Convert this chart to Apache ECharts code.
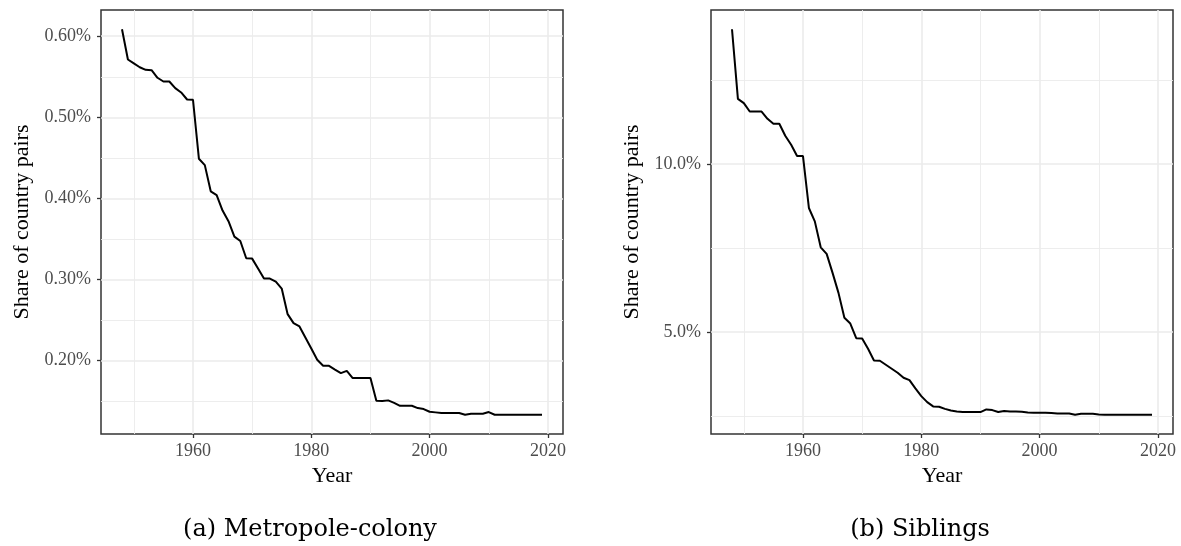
<!DOCTYPE html>
<html>
<head>
<meta charset="utf-8">
<script src="https://cdn.jsdelivr.net/npm/echarts@6/dist/echarts.min.js"></script>
<style>
html,body{margin:0;padding:0;background:#fff;}
#chart{width:1181px;height:546px;}
</style>
</head>
<body>
<div id="chart"></div>
<script>
// ---- data ----
const years = [1948,1949,1950,1951,1952,1953,1954,1955,1956,1957,1958,1959,
  1960,1961,1962,1963,1964,1965,1966,1967,1968,1969,
  1970,1971,1972,1973,1974,1975,1976,1977,1978,1979,
  1980,1981,1982,1983,1984,1985,1986,1987,1988,1989,
  1990,1991,1992,1993,1994,1995,1996,1997,1998,1999,
  2000,2001,2002,2003,2004,2005,2006,2007,2008,2009,
  2010,2011,2012,2013,2014,2015,2016,2017,2018,2019];

// (a) Metropole-colony, share of country pairs in %
const metropoleColony = [0.6086,0.5713,0.5666,0.5618,0.5586,0.5581,0.5488,0.5442,0.5442,0.5360,0.5307,0.5220,
  0.5217,0.4490,0.4411,0.4088,0.4042,0.3850,0.3720,0.3529,0.3475,0.3262,
  0.3258,0.3135,0.3012,0.3012,0.2975,0.2889,0.2573,0.2462,0.2421,0.2286,
  0.2150,0.2010,0.1936,0.1936,0.1890,0.1846,0.1874,0.1785,0.1785,0.1785,
  0.1785,0.1505,0.1501,0.1510,0.1480,0.1443,0.1443,0.1443,0.1415,0.1403,
  0.1370,0.1362,0.1354,0.1354,0.1354,0.1354,0.1333,0.1345,0.1345,0.1345,
  0.1366,0.1333,0.1333,0.1333,0.1333,0.1333,0.1333,0.1333,0.1333,0.1333];

// (b) Siblings, share of country pairs in %
const siblings = [14.008,11.939,11.811,11.562,11.562,11.562,11.345,11.197,11.197,10.840,10.573,10.238,
  10.238,8.694,8.296,7.524,7.328,6.764,6.170,5.428,5.258,4.822,
  4.813,4.507,4.159,4.151,4.032,3.913,3.794,3.646,3.575,3.328,
  3.100,2.922,2.794,2.785,2.720,2.670,2.645,2.625,2.625,2.625,
  2.625,2.704,2.684,2.625,2.655,2.645,2.645,2.635,2.615,2.605,
  2.605,2.605,2.595,2.585,2.585,2.585,2.546,2.575,2.575,2.575,
  2.556,2.546,2.546,2.546,2.546,2.546,2.546,2.546,2.546,2.546];

const xMajorTicks = [1960,1980,2000,2020];
const xMinorTicks = [1950,1970,1990,2010];
const yMajorTicksA = [0.2,0.3,0.4,0.5,0.6];
const yMinorTicksA = [0.15,0.25,0.35,0.45,0.55];
const yTickLabelsA = ['0.20%','0.30%','0.40%','0.50%','0.60%'];
const yMajorTicksB = [5,10];
const yMinorTicksB = [2.5,7.5,12.5];
const yTickLabelsB = ['5.0%','10.0%'];

const captions = ['(a) Metropole-colony','(b) Siblings'];
const xTitle = 'Year';
const yTitle = 'Share of country pairs';

// ---- helpers ----
function expand(arr){
  const mn = Math.min.apply(null, arr), mx = Math.max.apply(null, arr);
  const r = mx - mn;
  return [mn - 0.05*r, mx + 0.05*r];
}
const xr = expand(years);
const yrA = expand(metropoleColony);
const yrB = expand(siblings);

const tickFont = {fontFamily:'Liberation Serif', fontSize:18, color:'#4d4d4d'};
const titleFont = {fontFamily:'Liberation Serif', fontSize:22, color:'#000'};
const majorGrid = {show:true, lineStyle:{color:'#ebebeb', width:1.6}};
const minorGrid = {show:true, lineStyle:{color:'#ebebeb', width:0.9}};

function xAxes(gi){
  return [
    {type:'value', gridIndex:gi, min:xr[0], max:xr[1], position:'bottom',
     axisLine:{show:false},
     axisTick:{show:true, customValues:xMajorTicks, length:4, inside:false, lineStyle:{color:'#333', width:1.3}},
     axisLabel:{show:true, customValues:xMajorTicks, margin:8, formatter:v=>String(Math.round(v)), ...tickFont},
     splitLine:majorGrid,
     name:xTitle, nameLocation:'middle', nameGap:30, nameTextStyle:titleFont},
    {type:'value', gridIndex:gi, min:xr[0], max:xr[1], position:'top',
     axisLine:{show:false}, axisLabel:{show:false},
     axisTick:{show:false, customValues:xMinorTicks},
     splitLine:minorGrid}
  ];
}
function yAxes(gi, yr, major, minor, labels){
  return [
    {type:'value', gridIndex:gi, min:yr[0], max:yr[1], position:'left',
     axisLine:{show:false},
     axisTick:{show:true, customValues:major, length:4, inside:false, lineStyle:{color:'#333', width:1.3}},
     axisLabel:{show:true, customValues:major, margin:10,
       formatter:function(v){
         let best=0, bd=Infinity;
         major.forEach((m,i)=>{const d=Math.abs(m-v); if(d<bd){bd=d;best=i;}});
         return labels[best];
       }, ...tickFont},
     splitLine:majorGrid,
     name:yTitle, nameLocation:'middle', nameGap:68, nameRotate:90, nameTextStyle:titleFont},
    {type:'value', gridIndex:gi, min:yr[0], max:yr[1], position:'right',
     axisLine:{show:false}, axisLabel:{show:false},
     axisTick:{show:false, customValues:minor},
     splitLine:minorGrid}
  ];
}

const option = {
  animation:false,
  backgroundColor:'#fff',
  grid:[
    {left:101, top:10, width:462, height:424, show:true, borderColor:'#333', borderWidth:1.5, backgroundColor:'transparent', containLabel:false, outerBoundsMode:'none'},
    {left:711, top:10, width:462, height:424, show:true, borderColor:'#333', borderWidth:1.5, backgroundColor:'transparent', containLabel:false, outerBoundsMode:'none'}
  ],
  xAxis: xAxes(0).concat(xAxes(1)),
  yAxis: yAxes(0, yrA, yMajorTicksA, yMinorTicksA, yTickLabelsA)
         .concat(yAxes(1, yrB, yMajorTicksB, yMinorTicksB, yTickLabelsB)),
  title:[
    {text:captions[0], left:305, top:513, textAlign:'center',
     textStyle:{fontFamily:'DejaVu Serif', fontSize:24, fontWeight:'normal', color:'#000'}},
    {text:captions[1], left:915, top:513, textAlign:'center',
     textStyle:{fontFamily:'DejaVu Serif', fontSize:24, fontWeight:'normal', color:'#000'}}
  ],
  series:[
    {type:'line', xAxisIndex:0, yAxisIndex:0, showSymbol:false, z:5,
     lineStyle:{color:'#000', width:2}, data: years.map((y,i)=>[y, metropoleColony[i]])},
    {type:'line', xAxisIndex:2, yAxisIndex:2, showSymbol:false, z:5,
     lineStyle:{color:'#000', width:2}, data: years.map((y,i)=>[y, siblings[i]])}
  ]
};
const chart = echarts.init(document.getElementById('chart'), null, {renderer:'canvas'});
chart.setOption(option);
</script>
</body>
</html>
